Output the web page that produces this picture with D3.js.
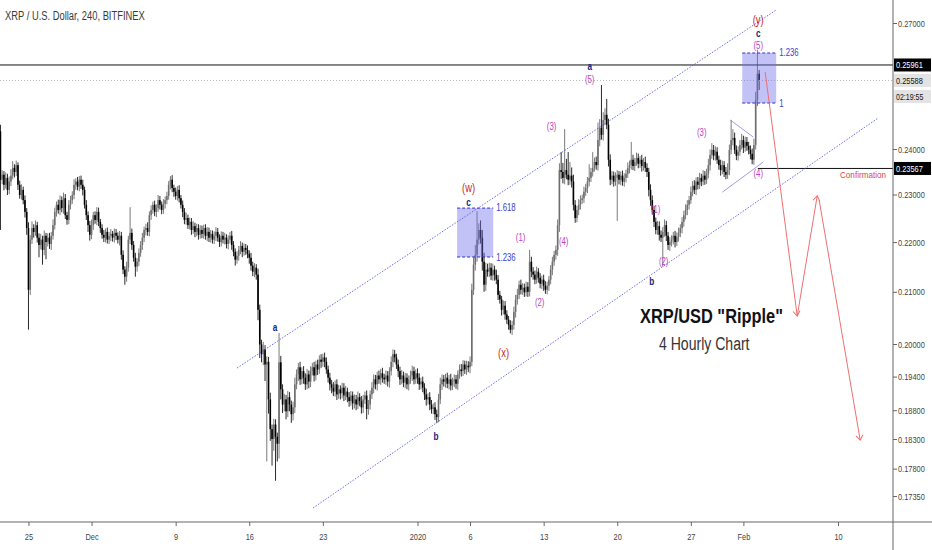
<!DOCTYPE html>
<html>
<head>
<meta charset="utf-8">
<title>XRP/USD 4H</title>
<script src="https://d3js.org/d3.v7.min.js"></script>
<style>
  body { margin: 0; background: #fff; }
  svg text { font-family: "Liberation Sans", Arial, sans-serif; }
</style>
</head>
<body>
<div id="viz"></div>
<script>
// ---- data (4h candles, open = previous close) ----
const firstCandle = Date.UTC(2019, 10, 22, 8);
const firstOpen = 0.2440;
const closes = [
  0.2332,0.2343,0.2321,0.2336,0.2310,0.2328,0.2341,0.2358,0.2349,0.2364,0.2321,0.2299,0.2310,0.2288,0.2263,0.2229,0.2104,
  0.2205,0.2229,0.2221,0.2235,0.2209,0.2194,0.2205,0.2184,0.2213,0.2200,0.2209,0.2196,0.2213,0.2235,0.2263,0.2278,0.2267,
  0.2288,0.2271,0.2292,0.2256,0.2246,0.2278,0.2288,
  0.2299,0.2321,0.2328,0.2317,0.2332,0.2321,0.2310,
  0.2278,0.2256,0.2235,0.2215,0.2235,
  0.2256,0.2246,0.2263,0.2242,0.2229,
  0.2215,0.2209,0.2221,0.2205,0.2213,0.2217,0.2209,0.2219,0.2213,0.2205,0.2213,
  0.2174,0.2144,0.2130,0.2148,
  0.2205,0.2219,0.2194,
  0.2168,0.2150,0.2160,
  0.2178,
  0.2194,0.2209,0.2225,0.2229,0.2221,
  0.2256,0.2267,0.2278,0.2263,0.2271,0.2288,0.2278,0.2267,0.2280,0.2288,0.2297,
  0.2321,0.2332,0.2314,
  0.2306,0.2297,0.2310,0.2292,0.2278,
  0.2263,0.2246,0.2250,0.2235,0.2242,0.2225,0.2233,0.2221,0.2229,0.2215,
  0.2225,0.2217,0.2229,0.2213,0.2221,0.2209,0.2217,0.2205,0.2213,0.2221,0.2209,0.2200,0.2213,0.2205,0.2209,0.2196,0.2205,0.2213,
  0.2194,0.2180,0.2164,0.2172,0.2184,0.2192,0.2180,0.2188,0.2184,0.2176,0.2168,
  0.2152,0.2140,0.2148,0.2134,
  0.2065,0.1999,
  0.1981,0.1990,0.1962,0.1967,
  0.1899,0.1847,0.1830,0.1855,0.1834,0.1822,
  0.1966,
  0.1917,0.1890,0.1899,0.1878,0.1903,0.1890,0.1873,0.1885,
  0.1926,0.1944,0.1957,0.1935,0.1950,
  0.1938,0.1926,0.1944,0.1931,0.1950,0.1957,0.1942,0.1962,0.1953,0.1971,0.1967,0.1975,
  0.1967,0.1953,0.1938,0.1926,
  0.1920,0.1913,0.1926,0.1908,0.1917,0.1910,0.1920,0.1906,0.1913,
  0.1903,0.1896,0.1906,0.1892,0.1899,0.1890,0.1903,0.1896,0.1885,0.1899,0.1906,0.1882,0.1890,
  0.1908,0.1920,0.1935,0.1926,0.1942,0.1935,0.1946,0.1938,
  0.1935,0.1942,0.1931,0.1950,
  0.1967,0.1981,0.1975,0.1962,
  0.1950,0.1935,0.1942,0.1929,0.1938,0.1926,0.1935,
  0.1942,0.1950,0.1935,0.1946,0.1938,0.1926,0.1931,0.1920,
  0.1908,0.1899,0.1903,0.1890,0.1882,0.1885,0.1873,0.1868,
  0.1899,0.1926,0.1935,
  0.1931,0.1938,0.1927,0.1935,0.1924,0.1931,0.1935,0.1927,
  0.1944,0.1953,0.1950,0.1962,0.1953,0.1960,0.1957,0.1967,
  0.2104,
  0.2154,0.2174,
  0.2205,0.2225,0.2209,
  0.2160,0.2114,0.2144,
  0.2140,0.2148,0.2132,0.2144,0.2134,0.2124,
  0.2094,0.2085,0.2065,0.2073,0.2056,0.2046,0.2036,
  0.2027,0.2036,
  0.2061,0.2085,0.2094,0.2114,0.2104,
  0.2108,0.2099,0.2110,0.2100,
  0.2160,0.2140,
  0.2134,0.2124,0.2140,0.2128,0.2116,0.2124,0.2112,0.2104,0.2112,
  0.2124,0.2144,0.2160,0.2174,0.2184,
  0.2235,0.2353,
  0.2349,0.2336,0.2353,0.2343,0.2332,0.2341,0.2328,
  0.2278,0.2250,
  0.2267,0.2278,0.2288,0.2292,0.2306,0.2314,0.2328,0.2336,0.2349,0.2358,0.2371,0.2364,
  0.2420,0.2448,0.2432,
  0.2466,0.2478,0.2455,
  0.2376,0.2332,
  0.2341,0.2328,0.2336,0.2343,0.2332,0.2341,0.2328,0.2336,0.2345,
  0.2358,0.2364,0.2376,0.2362,0.2371,0.2380,0.2367,0.2376,0.2362,0.2371,0.2358,0.2349,
  0.2310,0.2288,0.2267,
  0.2242,0.2225,0.2233,0.2215,0.2209,0.2221,
  0.2235,0.2213,0.2194,0.2200,
  0.2205,0.2213,0.2200,0.2211,0.2219,0.2229,
  0.2242,0.2256,0.2267,0.2278,0.2288,
  0.2306,0.2319,0.2310,0.2328,0.2321,0.2336,0.2328,0.2341,0.2332,0.2345,
  0.2364,0.2387,0.2398,0.2385,0.2394,
  0.2376,0.2364,0.2353,0.2364,
  0.2349,0.2343,0.2353,
  0.2398,0.2420,0.2425,
  0.2398,0.2385,0.2394,
  0.2409,0.2420,0.2403,0.2416,0.2407,0.2398,
  0.2389,0.2376,0.2409,
  0.2512,
  0.2575,
  0.2559
];
// wick lengths above / below the body, in units of 0.0001
const upperWick = [
  15,10,8,12,9,11,14,15,8,10,6,9,12,7,10,8,12,9,14,8,
  10,7,9,12,8,11,6,9,10,8,12,9,7,11,10,8,12,9,7,10,
  9,8,12,7,10,8,9,11,7,10,8,9,12,7,8,10,9,6,8,10,
  7,9,8,10,6,9,8,7,10,8,9,7,12,8,54,9,8,10,7,9,
  8,10,7,9,12,8,10,7,9,8,11,9,7,10,8,9,8,8,10,7,
  9,8,10,7,9,8,11,7,9,8,10,7,9,8,10,9,7,8,10,9,
  8,7,9,10,8,7,9,8,10,7,9,8,10,8,7,9,8,10,7,9,
  8,9,7,10,8,9,7,12,10,9,14,8,10,9,12,8,10,9,7,55,
  12,9,10,8,11,9,7,10,12,9,8,10,7,9,8,10,7,9,8,10,
  7,9,8,10,7,9,8,7,9,8,10,7,9,8,7,9,8,10,7,9,
  8,7,9,8,10,7,9,8,7,9,8,7,10,9,8,7,9,8,10,7,
  9,8,7,10,9,8,7,9,8,10,7,9,8,7,9,10,8,7,9,8,
  7,9,8,10,7,9,8,7,9,8,10,12,9,8,7,9,8,10,7,9,
  8,7,9,10,8,7,9,8,10,12,15,20,59,14,20,16,18,14,12,10,
  9,12,8,10,9,8,7,10,9,8,7,9,8,10,9,12,8,10,9,8,
  10,9,24,10,9,8,10,7,9,8,10,9,8,7,9,10,8,9,12,15,
  40,20,92,25,50,30,18,15,10,9,12,10,8,11,9,10,30,9,35,10,
  12,40,20,100,18,15,37,14,12,10,9,12,10,8,9,11,10,9,12,10,
  40,11,9,12,10,8,11,9,12,10,9,12,10,8,9,11,10,9,10,12,
  9,8,10,9,8,10,9,11,8,10,9,12,10,9,11,10,12,9,10,11,
  9,12,10,11,14,12,15,11,12,10,9,12,10,9,11,15,12,46,20,12,
  10,12,11,14,10,12,11,9,10,12,14,20,58,9
];
const lowerWick = [
  107,10,12,8,11,9,10,8,12,9,11,8,10,9,12,14,77,10,9,12,
  8,10,25,9,30,11,35,9,10,12,8,9,10,8,11,9,12,8,10,9,
  10,8,9,11,8,10,9,12,8,10,14,12,9,10,8,11,9,10,8,9,
  10,8,9,11,8,10,9,8,12,10,9,16,10,8,9,10,8,20,10,9,
  8,10,9,11,8,9,10,8,9,11,8,10,9,8,10,9,8,10,9,11,
  8,10,9,8,11,9,10,8,9,10,8,11,9,10,8,9,10,8,11,9,
  10,8,9,11,8,10,9,8,10,9,11,8,10,9,12,8,10,9,11,8,
  10,9,12,10,9,11,10,20,25,15,20,30,170,25,20,45,20,74,30,25,
  18,15,12,14,10,12,15,11,10,9,12,10,9,11,10,9,12,10,8,11,
  9,10,8,11,9,10,8,9,11,10,8,9,10,8,11,9,10,8,9,10,
  8,11,9,10,8,9,11,10,8,18,10,9,8,10,9,11,8,10,9,8,
  10,9,11,8,10,9,8,11,10,9,8,10,9,11,8,10,9,8,11,10,
  9,8,10,11,9,10,8,9,10,10,9,8,10,9,11,8,10,9,8,10,
  9,11,8,10,9,8,10,9,11,8,10,12,14,10,12,18,14,12,10,11,
  9,10,12,9,10,8,11,9,10,8,9,7,10,9,11,10,8,9,10,9,
  8,10,9,11,10,9,8,10,9,11,10,8,9,10,9,11,8,10,12,14,
  15,12,14,10,12,11,13,12,10,9,11,10,8,10,9,11,10,9,10,8,
  10,12,14,11,13,12,10,15,12,10,11,9,92,10,12,9,11,10,9,12,
  10,9,11,8,10,9,12,10,9,11,14,12,10,11,9,10,12,9,59,10,
  11,10,12,9,10,11,8,10,9,11,10,9,11,10,8,10,9,11,10,9,
  10,8,11,9,10,12,9,10,11,9,10,12,9,11,10,9,11,10,12,9,
  10,11,9,10,12,9,11,10,12,10,11,10,14,23
];

// 0.26 and 0.25 sit under the price tags in the original, so they are left out
const priceTicks = [0.27, 0.24, 0.23, 0.22, 0.21, 0.20, 0.194, 0.188, 0.183, 0.178, 0.1735];
const dateTicks = ["2019-11-25", "2019-12-01", "2019-12-09", "2019-12-16", "2019-12-23", "2020-01-01",
                   "2020-01-06", "2020-01-13", "2020-01-20", "2020-01-27", "2020-02-01", "2020-02-10"];
const dateTickLabels = ["25", "Dec", "9", "16", "23", "2020", "6", "13", "20", "27", "Feb", "10"];

// wave counts: [text, time, price, kind]
const waveLabels = [
  ["a",   "2019-12-18T11:00Z", 0.2032, "minor"],
  ["b",   "2020-01-02T18:30Z", 0.1834, "minor"],
  ["(w)", "2020-01-05T20:40Z", 0.2314, "major"],
  ["c",   "2020-01-05T20:40Z", 0.2284, "minor"],
  ["(x)", "2020-01-09T04:30Z", 0.1983, "major"],
  ["(1)", "2020-01-10T19:30Z", 0.2210, "sub"],
  ["(2)", "2020-01-12T15:00Z", 0.2080, "sub"],
  ["(3)", "2020-01-13T18:15Z", 0.2450, "sub"],
  ["(4)", "2020-01-14T21:40Z", 0.2202, "sub"],
  ["(5)", "2020-01-17T09:10Z", 0.2562, "sub"],
  ["a",   "2020-01-17T09:10Z", 0.2593, "minor"],
  ["(1)", "2020-01-23T15:50Z", 0.2267, "sub"],
  ["b",   "2020-01-23T06:40Z", 0.2121, "minor"],
  ["(2)", "2020-01-24T10:00Z", 0.2161, "sub"],
  ["(3)", "2020-01-28T01:00Z", 0.2438, "sub"],
  ["(4)", "2020-02-02T09:50Z", 0.2345, "sub"],
  ["(5)", "2020-02-02T09:50Z", 0.2643, "sub"],
  ["c",   "2020-02-02T09:50Z", 0.2675, "minor"],
  ["(y)", "2020-02-02T09:50Z", 0.2708, "major"]
];

// fibonacci boxes: [start, end, topPrice, bottomPrice, topText, bottomText]
const fibBoxes = [
  ["2020-01-04T18:30Z", "2020-01-08T04:50Z", 0.2271, 0.21695, "1.618", "1.236"],
  ["2020-01-31T21:20Z", "2020-02-04T02:50Z", 0.26253, 0.25054, "1.236", "1"]
];

const channelLines = [
  [["2019-12-14T20:10Z", 0.19556], ["2020-02-04T02:50Z", 0.2733]],
  [["2019-12-22T01:40Z", 0.17157], ["2020-02-13T19:40Z", 0.24705]]
];
const triangleLines = [
  [["2020-01-30T18:00Z", 0.2466], ["2020-02-01T22:30Z", 0.2427]],
  [["2020-01-30T00:00Z", 0.2305], ["2020-02-02T21:20Z", 0.2371]]
];
const projection = [
  [["2020-02-03T01:40Z", 0.2579], ["2020-02-06T02:50Z", 0.2053]],
  [["2020-02-06T02:50Z", 0.2053], ["2020-02-08T00:30Z", 0.2297]],
  [["2020-02-08T05:00Z", 0.2288], ["2020-02-12T02:40Z", 0.1828]]
];

const highLine = 0.25961;
const lastPrice = 0.25588;
const confirmLevel = 0.23567;
const confirmFrom = "2020-02-02T09:00Z";
const countdown = "02:19:55";

// ---- layout ----
const width = 932, height = 550;
const plotW = 893, plotH = 522;
const narrow = 0.78; // squeeze text horizontally like the condensed chart font

const svg = d3.select('#viz').append('svg')
  .attr('width', width).attr('height', height)
  .style('display', 'block');

const x = d3.scaleUtc()
  .domain([new Date(Date.UTC(2019, 10, 22, 7, 0)), new Date(Date.UTC(2020, 1, 15, 5, 30))])
  .range([0, plotW]);
const y = d3.scaleLog()
  .domain([0.16934, 0.27587])
  .range([plotH, 0]);

const pt = p => [x(new Date(p[0])), y(p[1])];

svg.append('defs').append('clipPath').attr('id', 'plot')
  .append('rect').attr('width', plotW).attr('height', plotH);

const plot = svg.append('g').attr('clip-path', 'url(#plot)');

// candles
const candles = closes.map((c, i) => {
  const o = i === 0 ? firstOpen : closes[i - 1];
  const up = (upperWick[i] || 8) / 10000, dn = (lowerWick[i] || 8) / 10000;
  return { t: new Date(firstCandle + i * 4 * 3600 * 1000), o, c,
           h: Math.max(o, c) + up, l: Math.min(o, c) - dn };
});

const cg = plot.append('g');
cg.selectAll('line').data(candles).enter().append('line')
  .attr('x1', d => x(d.t)).attr('x2', d => x(d.t))
  .attr('y1', d => y(d.h)).attr('y2', d => y(d.l))
  .attr('stroke', d => d.c >= d.o ? '#7a7a7a' : '#2a2a2a')
  .attr('stroke-width', 1);
cg.selectAll('rect').data(candles).enter().append('rect')
  .attr('x', d => x(d.t) - 0.8)
  .attr('width', 1.6)
  .attr('y', d => y(Math.max(d.o, d.c)))
  .attr('height', d => Math.max(0.8, Math.abs(y(d.o) - y(d.c))))
  .attr('fill', d => d.c >= d.o ? '#6e6e6e' : '#000');

// price lines
plot.append('line').attr('x1', 0).attr('x2', plotW)
  .attr('y1', y(lastPrice)).attr('y2', y(lastPrice))
  .attr('stroke', '#b5b5b5').attr('stroke-dasharray', '1,2');
plot.append('line').attr('x1', 0).attr('x2', plotW)
  .attr('y1', y(highLine)).attr('y2', y(highLine))
  .attr('stroke', '#111').attr('stroke-width', 1);
plot.append('line').attr('x1', x(new Date(confirmFrom))).attr('x2', plotW)
  .attr('y1', y(confirmLevel)).attr('y2', y(confirmLevel))
  .attr('stroke', '#111').attr('stroke-width', 1);

// fib boxes
fibBoxes.forEach(b => {
  const x0 = x(new Date(b[0])), x1 = x(new Date(b[1]));
  const yt = y(b[2]), yb = y(b[3]);
  plot.append('rect').attr('x', x0).attr('y', yt).attr('width', x1 - x0).attr('height', yb - yt)
    .attr('fill', 'rgba(110,110,235,0.42)');
  [yt, yb].forEach(yy => plot.append('line').attr('x1', x0).attr('x2', x1).attr('y1', yy).attr('y2', yy)
    .attr('stroke', '#2f2fd0').attr('stroke-dasharray', '3,2'));
  plot.append('text').attr('x', x1 + 3).attr('y', yt + 3).text(b[4])
    .attr('fill', '#3d3dd0').attr('font-size', 10);
  plot.append('text').attr('x', x1 + 3).attr('y', yb + 4).text(b[5])
    .attr('fill', '#3d3dd0').attr('font-size', 10);
});

// channel + triangle
channelLines.forEach(l => {
  const a = pt(l[0]), b = pt(l[1]);
  plot.append('line').attr('x1', a[0]).attr('y1', a[1]).attr('x2', b[0]).attr('y2', b[1])
    .attr('stroke', '#5a5ae6').attr('stroke-width', 0.9).attr('stroke-dasharray', '1.5,1.5');
});
triangleLines.forEach(l => {
  const a = pt(l[0]), b = pt(l[1]);
  plot.append('line').attr('x1', a[0]).attr('y1', a[1]).attr('x2', b[0]).attr('y2', b[1])
    .attr('stroke', '#8585d8').attr('stroke-width', 0.8);
});

// projected path (red arrows)
svg.select('defs').append('marker').attr('id', 'arr')
  .attr('viewBox', '-6 -5 8 10').attr('markerWidth', 8).attr('markerHeight', 10)
  .attr('markerUnits', 'userSpaceOnUse').attr('orient', 'auto')
  .append('path').attr('d', 'M-5,-3.5L0,0L-5,3.5')
  .attr('fill', 'none').attr('stroke', '#ee6f6f').attr('stroke-width', 1);
projection.forEach(l => {
  const a = pt(l[0]), b = pt(l[1]);
  plot.append('line').attr('x1', a[0]).attr('y1', a[1]).attr('x2', b[0]).attr('y2', b[1])
    .attr('stroke', '#ee6f6f').attr('stroke-width', 1).attr('marker-end', 'url(#arr)');
});

// wave labels
const labelStyle = {
  major: { fill: '#c62828', size: 12, weight: 'normal' },
  minor: { fill: '#1a237e', size: 10.5, weight: 'bold' },
  sub:   { fill: '#c13fc1', size: 10, weight: 'normal' }
};
plot.selectAll('.wave').data(waveLabels).enter().append('text')
  .attr('class', 'wave')
  .attr('x', d => x(new Date(d[1])))
  .attr('y', d => y(d[2]))
  .attr('dy', '0.35em')
  .attr('text-anchor', 'middle')
  .attr('fill', d => labelStyle[d[3]].fill)
  .attr('font-size', d => labelStyle[d[3]].size)
  .attr('font-weight', d => labelStyle[d[3]].weight)
  .text(d => d[0]);

const confirmText = plot.append('text').attr('x', 840).attr('y', y(confirmLevel) + 10)
  .attr('fill', '#e04848').attr('font-size', 9.5).text('Confirmation');

plot.append('text').attr('x', 640).attr('y', 323)
  .attr('font-size', 21).attr('font-weight', 'bold').attr('fill', '#111')
  .text('XRP/USD "Ripple"');
plot.append('text').attr('x', 659).attr('y', 350)
  .attr('font-size', 18).attr('fill', '#333')
  .text('4 Hourly Chart');

// title
svg.append('text').attr('x', 5).attr('y', 20)
  .attr('font-size', 12).attr('fill', '#3a3a3a')
  .text('XRP / U.S. Dollar, 240, BITFINEX');

// axes
const yAxis = svg.append('g').attr('transform', `translate(${plotW},0)`)
  .call(d3.axisRight(y).tickValues(priceTicks).tickFormat(d3.format('.5f')).tickSize(4).tickPadding(1).tickSizeOuter(0));
const xAxis = svg.append('g').attr('transform', `translate(0,${plotH})`)
  .call(d3.axisBottom(x).tickValues(dateTicks.map(d => new Date(d + 'T00:00Z')))
    .tickFormat((d, i) => dateTickLabels[i]).tickSize(4).tickSizeOuter(0));
[yAxis, xAxis].forEach(a => {
  a.select('.domain').remove();
  a.selectAll('line').attr('stroke', '#666');
  a.selectAll('text').attr('fill', '#444').attr('font-size', 9.5)
    .style('font-family', '"Liberation Sans", Arial, sans-serif');
});
xAxis.selectAll('text').attr('dy', '1.2em');
svg.append('line').attr('x1', plotW).attr('x2', plotW).attr('y1', 0).attr('y2', height)
  .attr('stroke', '#666');
svg.append('line').attr('x1', 0).attr('x2', width).attr('y1', plotH).attr('y2', plotH)
  .attr('stroke', '#666');

// price tags on the right: [price, text, fill, textColour, offset, fontSize]
const tags = [
  [highLine, d3.format('.5f')(highLine), '#000', '#fff', 0, 9.5],
  [lastPrice, d3.format('.5f')(lastPrice), '#e3e3e3', '#111', 0, 9.5],
  [lastPrice, countdown, '#e3e3e3', '#111', 16, 9],
  [confirmLevel, d3.format('.5f')(confirmLevel), '#000', '#fff', 0, 9.5]
];
tags.forEach(t => {
  const cy = y(t[0]) + t[4];
  svg.append('rect').attr('x', plotW + 1).attr('y', cy - 6.5).attr('width', 37).attr('height', 13)
    .attr('fill', t[2]);
  svg.append('text').attr('x', plotW + 3).attr('y', cy).attr('dy', '0.35em')
    .attr('font-size', t[5]).attr('fill', t[3]).text(t[1]);
});

// condense every text to mimic the narrow chart font
svg.selectAll('text').each(function () {
  const w = this.getComputedTextLength();
  if (w > 0) d3.select(this).attr('textLength', w * narrow).attr('lengthAdjust', 'spacingAndGlyphs');
});
confirmText.attr('textLength', 46);
</script>
</body>
</html>
